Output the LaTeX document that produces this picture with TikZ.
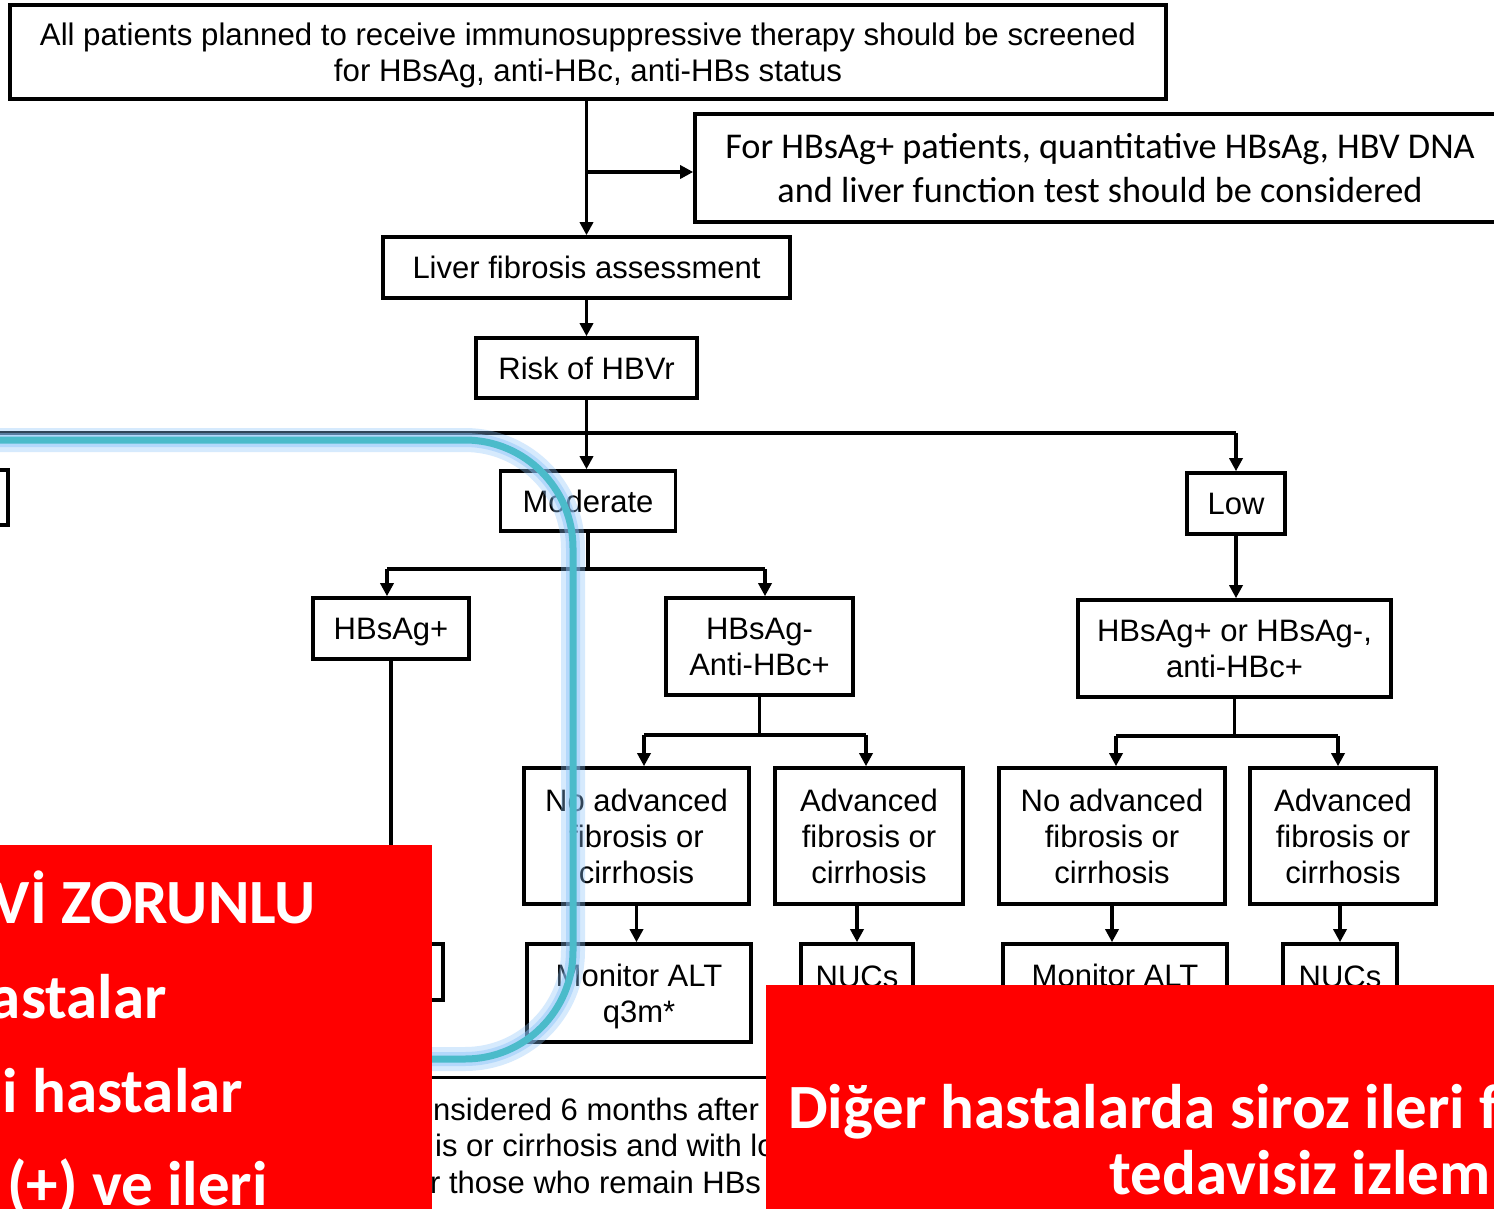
\documentclass[tikz,border=0pt]{standalone}
\usepackage{fontspec}
\usetikzlibrary{arrows.meta}
\newfontfamily\arialf{Liberation Sans}
\newfontfamily\calf{Carlito}
\definecolor{redbox}{RGB}{255,0,0}
\definecolor{tealc}{RGB}{75,187,202}
\definecolor{glowc}{RGB}{140,195,250}
\begin{document}
\begin{tikzpicture}[x=1pt,y=-1pt,
  box/.style={draw, line width=3.6pt, rectangle, inner sep=0pt, align=center, text depth=0pt,
    font=\arialf\fontsize{31}{36}\selectfont},
  conn/.style={line width=3.6pt},
  arr/.style={conn, -{Triangle[length=13pt,width=13pt]}},
  redtxt/.style={text=white, inner sep=0pt, font=\calf\bfseries\fontsize{63}{63}\selectfont},
  foot/.style={inner sep=0pt, anchor=base west, font=\arialf\fontsize{31}{36}\selectfont}]
\useasboundingbox (0,0) rectangle (1494,1208);
\clip (0,0) rectangle (1494,1208);
\fill[white] (0,0) rectangle (1494,1208);

% boxes
\node[box, minimum width=1156pt, minimum height=94pt, font=\arialf\fontsize{31.2}{36}\selectfont] (top) at (588,52)
  {All patients planned to receive immunosuppressive therapy should be screened\\for HBsAg, anti-HBc, anti-HBs status};
\node[box, minimum width=810pt, minimum height=108pt, font=\calf\fontsize{36.3}{44}\selectfont] (forbox) at (1100,168)
  {For HBsAg+ patients, quantitative HBsAg, HBV DNA\\and liver function test should be considered};
\node[box, minimum width=407pt, minimum height=61pt] (liver) at (586.5,267.5) {Liver fibrosis assessment};
\node[box, minimum width=221pt, minimum height=60pt] (risk) at (586.5,368) {Risk of HBVr};
\node[box, minimum width=28pt, minimum height=55pt] (high) at (-6,497.5) {};
\node[box, minimum width=175pt, minimum height=60pt] (moderate) at (588,501) {Moderate};
\node[box, minimum width=98pt, minimum height=61pt] (low) at (1236,503.5) {Low};
\node[box, minimum width=156pt, minimum height=61pt] (hbp) at (391,628.5) {HBsAg+};
\node[box, minimum width=187pt, minimum height=97pt] (hbn) at (759.5,646.5) {HBsAg-\\Anti-HBc+};
\node[box, minimum width=313pt, minimum height=97pt] (hbor) at (1234.5,648.5) {HBsAg+ or HBsAg-,\\anti-HBc+};
\node[box, minimum width=225pt, minimum height=136pt] (na1) at (636.5,836) {No advanced\\fibrosis or\\cirrhosis};
\node[box, minimum width=188pt, minimum height=136pt] (ad1) at (869,836) {Advanced\\fibrosis or\\cirrhosis};
\node[box, minimum width=226pt, minimum height=136pt] (na2) at (1112,836) {No advanced\\fibrosis or\\cirrhosis};
\node[box, minimum width=186pt, minimum height=136pt] (ad2) at (1343,836) {Advanced\\fibrosis or\\cirrhosis};
\node[box, minimum width=113pt, minimum height=56pt] (hbox) at (386.5,972) {};
\node[box, minimum width=224pt, minimum height=98pt] (mon1) at (639,993) {Monitor ALT\\q3m*};
\node[box, minimum width=112pt, minimum height=66pt] (nuc1) at (857,977) {NUCs};
\node[box, minimum width=224pt, minimum height=98pt] (mon2) at (1115,993) {Monitor ALT\\\phantom{q3m*}};
\node[box, minimum width=114pt, minimum height=66pt] (nuc2) at (1340,977) {NUCs};

% connectors
\draw[arr] (top.south -| liver.north) -- (liver.north);
\coordinate (b1) at (586.5,172);
\draw[arr] (b1) -- (b1 -| forbox.west);
\draw[arr] (liver.south) -- (risk.north);
\coordinate (j1) at (586.5,433);
\coordinate (jl) at (-10,433);
\coordinate (jr) at (1236,433);
\draw[conn] (risk.south) -- (j1);
\draw[conn] (jl) -- (jr);
\draw[arr] (j1) -- (j1 |- moderate.north);
\draw[arr] (jr) -- (low.north);
\coordinate (a1) at (387,569);
\coordinate (a2) at (765,569);
\draw[conn] (moderate.south) -- (moderate.south |- a1);
\draw[conn] (a1) -- (a2);
\draw[arr] (a1) -- (a1 |- hbp.north);
\draw[arr] (a2) -- (a2 |- hbn.north);
\draw[arr] (hbp.south) -- (hbp.south |- hbox.north);
\coordinate (c1) at (644,735);
\coordinate (c2) at (866,735);
\draw[conn] (hbn.south) -- (hbn.south |- c1);
\draw[conn] (c1) -- (c2);
\draw[arr] (c1) -- (c1 |- na1.north);
\draw[arr] (c2) -- (c2 |- ad1.north);
\draw[arr] (na1.south) -- (na1.south |- mon1.north);
\draw[arr] (nuc1.north |- ad1.south) -- (nuc1.north);
\draw[arr] (low.south) -- (low.south |- hbor.north);
\coordinate (d1) at (1116,736);
\coordinate (d2) at (1338,736);
\draw[conn] (hbor.south) -- (hbor.south |- d1);
\draw[conn] (d1) -- (d2);
\draw[arr] (d1) -- (d1 |- na2.north);
\draw[arr] (d2) -- (d2 |- ad2.north);
\draw[arr] (na2.south) -- (na2.south |- mon2.north);
\draw[arr] (nuc2.north |- ad2.south) -- (nuc2.north);

% footnote rule and text
\coordinate (f1) at (0,1077);
\coordinate (f2) at (1494,1077);
\draw[line width=3pt] (f1) -- (f2);
\node[foot] (ft1) at (433,1120) {nsidered 6 months after};
\node[foot] (ft2) at (435,1156) {is or cirrhosis and with lo};
\node[foot] (ft3) at (430,1193) {r those who remain HBs};

% teal highlight
\coordinate (t0) at (-10,440);
\coordinate (t1) at (573,440);
\coordinate (t2) at (573,1059);
\coordinate (t3) at (420,1059);
\draw[glowc, opacity=0.35, line width=24pt, rounded corners=108pt] (t0) -- (t1) -- (t2) -- (t3);
\draw[glowc, opacity=0.45, line width=14pt, rounded corners=108pt] (t0) -- (t1) -- (t2) -- (t3);
\draw[tealc, line width=7pt, rounded corners=108pt] (t0) -- (t1) -- (t2) -- (t3);

% red overlay boxes
\fill[redbox] (0,845) rectangle (432,1215);
\fill[redbox] (766,985) rectangle (1500,1215);
\node[redtxt, anchor=base east] (r1) at (316,923) {Vİ ZORUNLU};
\node[redtxt, anchor=base east] (r2) at (167,1018) {astalar};
\node[redtxt, anchor=base east] (r3) at (243,1112) {i hastalar};
\node[redtxt, anchor=base east] (r4) at (268,1205) {(+) ve ileri};
\node[redtxt, anchor=base west] (r5) at (788,1128) {Diğer hastalarda siroz ileri f};
\node[redtxt, anchor=base east] (r6) at (1491,1194) {tedavisiz izlem};
\end{tikzpicture}
\end{document}
